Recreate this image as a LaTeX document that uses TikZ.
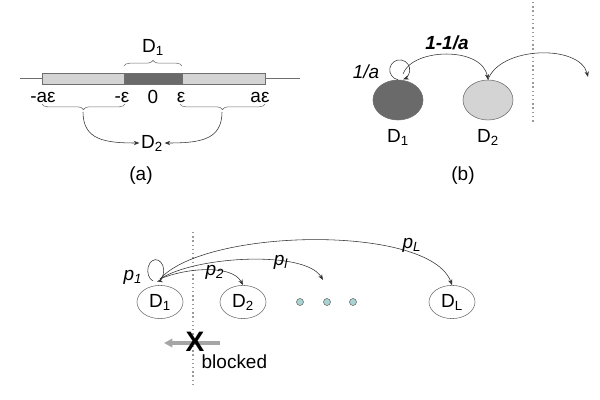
\documentclass[tikz,border=0pt]{standalone}
\usepackage{fontspec}
\setmainfont{Liberation Sans}
\usetikzlibrary{arrows.meta,shapes.geometric,decorations.pathreplacing}
\definecolor{inkgray}{HTML}{6E6E6E}
\definecolor{darkfill}{HTML}{6A6A6A}
\definecolor{lightfill}{HTML}{D4D4D4}
\definecolor{dotteal}{HTML}{A9D3D3}

\begin{document}
\begin{tikzpicture}[
  x=0.025cm,y=-0.025cm,
  font=\fontsize{13.5}{16}\selectfont,
  lbl/.style={inner sep=1pt},
  region/.style={ellipse,draw=inkgray,thin,inner sep=0pt,
                 minimum width=1.25cm,minimum height=1cm},
  state/.style={ellipse,draw=inkgray,thin,inner sep=0pt,fill=white,
                minimum width=1.15cm,minimum height=0.83cm},
  hop/.style={-{Stealth[length=4pt,width=3pt]},thin,draw=black!80},
  brace/.style={decorate,decoration={brace,amplitude=4pt},draw=inkgray},
  divider/.style={draw=inkgray!70,dotted,line width=1pt},
  pdot/.style={circle,draw=inkgray,fill=dotteal,inner sep=0pt,minimum size=5pt},
]
\useasboundingbox (0,0) rectangle (600,400);

% (a) interval on the line
\draw[inkgray,thin] (20,78) -- (300,78);
\draw[inkgray,fill=lightfill] (42,73) rectangle (265,84);
\draw[inkgray,fill=darkfill] (124,73) rectangle (182,84);
\draw[brace] (124,66) -- (182,66);
\node[lbl] (D1a) at (153,47) {D\textsubscript{1}};

\node[lbl] (mae) at (43,97) {-aε};
\node[lbl] (me) at (122,97) {-ε};
\node[lbl] (zero) at (153,97) {0};
\node[lbl] (pe) at (181,97) {ε};
\node[lbl] (pae) at (260,97) {aε};

\draw[brace] (125,104) -- (42,104);
\draw[brace] (265,104) -- (180,104);
\coordinate (tipl) at (83,112);
\coordinate (tipr) at (222,112);
\node[lbl] (D2a) at (152,143) {D\textsubscript{2}};
\draw[hop] (tipl) .. controls (83,140) and (105,143) .. (D2a.west);
\draw[hop] (tipr) .. controls (222,140) and (200,143) .. (D2a.east);
\node (capa) at (141,176) {(a)};

% (b) two regions
\draw[divider] (533,2) -- (533,123);
\node[region,fill=darkfill] (D1b) at (398,100) {};
\node[region,fill=lightfill] (D2b) at (488,100) {};
\node[lbl] (D1bl) at (398,137) {D\textsubscript{1}};
\node[lbl] (D2bl) at (488,137) {D\textsubscript{2}};
\draw[hop] (D1b.north) arc[start angle=100,end angle=430,radius=10];
\node[lbl] at (366,72) {\itshape 1/a};
\draw[hop] (403,74) .. controls (412,48) and (482,46) .. (D2b.north);
\node[lbl] at (447,43) {\itshape\bfseries 1-1/a};
\coordinate (outb) at (588,77);
\draw[hop] (D2b.north) .. controls (500,46) and (580,44) .. (outb);
\node (capb) at (463,176) {(b)};

% bottom: chain of states
\draw[divider] (193,232) -- (193,388);
\node[state] (D1c) at (160,302) {D\textsubscript{1}};
\node[state] (D2c) at (243,302) {D\textsubscript{2}};
\node[state] (DLc) at (452,302) {D\textsubscript{L}};
\foreach \x in {300,327,353} {
  \node[pdot] at (\x,302) {};
}
\coordinate (jump) at (160,279);
\coordinate (endl) at (323,280);
\coordinate (loopc) at (153,281);
\draw[hop] (loopc) arc[start angle=110,end angle=440,x radius=8,y radius=11];
\draw[hop] (jump) .. controls (185,268) and (232,264) .. (D2c.north);
\draw[hop] (jump) .. controls (195,256) and (305,250) .. (endl);
\draw[hop] (jump) .. controls (205,228) and (430,224) .. (DLc.north);
\node[lbl] at (133,277) {\itshape p\textsubscript{1}};
\node[lbl] at (215,272) {\itshape p\textsubscript{2}};
\node[lbl] at (281,262) {\itshape p\textsubscript{l}};
\node[lbl] at (412,245) {\itshape p\textsubscript{L}};

% blocked move
\coordinate (bfrom) at (220,343);
\coordinate (bto) at (164,343);
\draw[-{Triangle[length=6pt,width=6pt]},line width=2.5pt,draw=gray!70] (bfrom) -- (bto);
\node[font=\fontsize{20}{20}\selectfont\bfseries,inner sep=0pt] (cross) at (195,342) {X};
\node[lbl,anchor=west] (blk) at (200,362) {blocked};
\end{tikzpicture}
\end{document}
